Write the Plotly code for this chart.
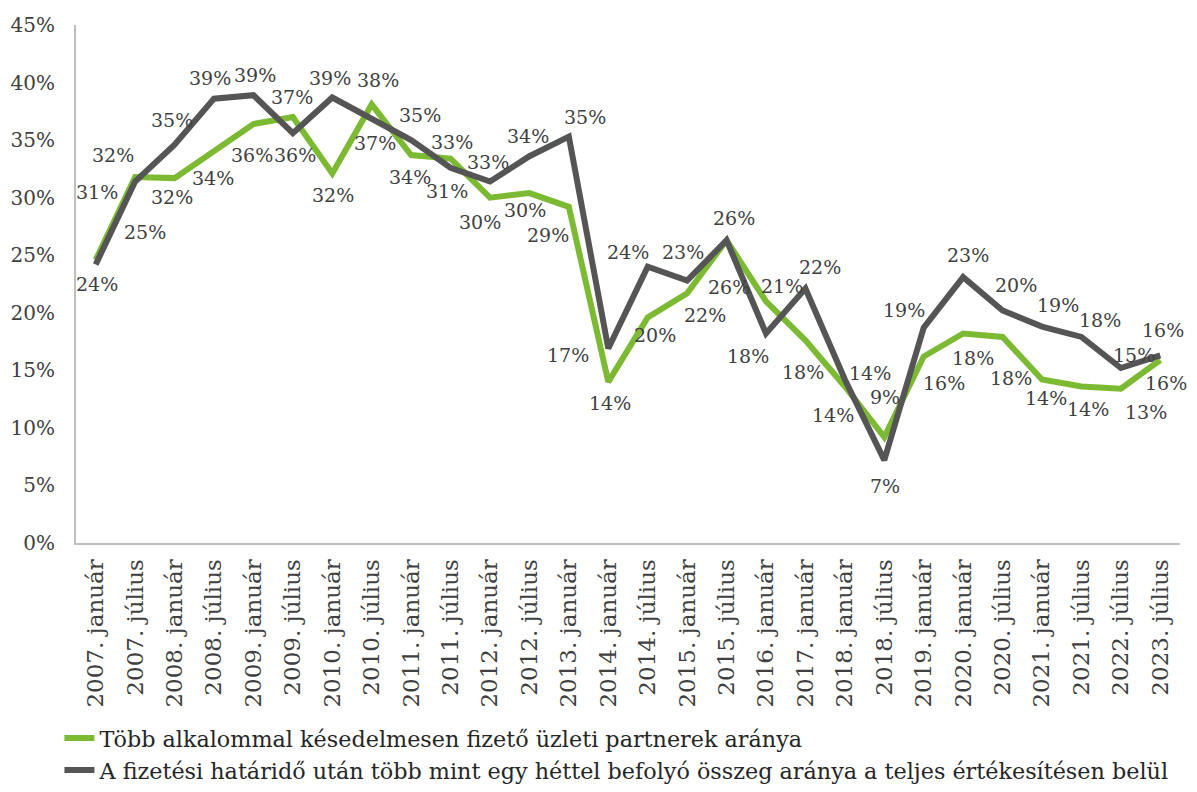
import plotly.graph_objects as go

categories = [
    "2007. január", "2007. július", "2008. január", "2008. július",
    "2009. január", "2009. július", "2010. január", "2010. július",
    "2011. január", "2011. július", "2012. január", "2012. július",
    "2013. január", "2014. január", "2014. július", "2015. január",
    "2015. július", "2016. január", "2017. január", "2018. január",
    "2018. július", "2019. január", "2020. január", "2020. július",
    "2021. január", "2021. július", "2022. július", "2023. július",
]

green_values = [24.6, 31.8, 31.7, 34.1, 36.4, 37.0, 32.1, 38.1, 33.7, 33.4,
                30.0, 30.4, 29.2, 14.0, 19.6, 21.7, 26.3, 21.0, 17.6, 13.6,
                9.2, 16.2, 18.2, 17.9, 14.2, 13.6, 13.4, 15.9]
gray_values = [24.2, 31.4, 34.6, 38.6, 38.9, 35.6, 38.7, 36.9, 35.0, 32.6,
               31.4, 33.6, 35.3, 16.9, 24.0, 22.8, 26.3, 18.2, 22.1, 14.2,
               7.2, 18.7, 23.1, 20.2, 18.8, 17.9, 15.2, 16.3]

y_ticks = [0, 5, 10, 15, 20, 25, 30, 35, 40, 45]
y_tick_labels = ["0%", "5%", "10%", "15%", "20%", "25%", "30%", "35%", "40%", "45%"]

green_name = "Több alkalommal késedelmesen fizető üzleti partnerek aránya"
gray_name = ("A fizetési határidő után több mint egy héttel befolyó összeg "
             "aránya a teljes értékesítésen belül")

# label pixel offsets (style)
green_off = [(49, -28), (-22, -22), (-3, 19), (-1, 28), (-1, 31), (-1, -20),
             (1, 22), (6, -24), (-1, 22), (1, -17), (-10, 24), (-4, 17),
             (-21, 28), (2, 21), (7, 18), (18, 22), (7, -22), (16, -15),
             (-2, 32), (-12, 29), (1, -40), (20, 26), (10, 24), (8, 41),
             (4, 18), (7, 23), (25, 23), (6, 23)]
gray_off = [(1, 20), (-38, 10), (-3, -25), (-4, -21), (2, -20), (2, 22),
            (-2, -20), (3, 25), (9, -25), (37, -6), (-43, 9), (-1, -20),
            (16, -20), (-40, 7), (-20, -15), (-4, -29), (2, 47), (-18, 22),
            (15, -22), (25, -7), (1, 26), (-20, -18), (5, -22), (13, -25),
            (16, -22), (19, -17), (13, -13), (3, -25)]

GREEN = "#7dba34"
GRAY = "#555555"
TEXT = "#404040"
FONT = "DejaVu Serif"

fig = go.Figure()
fig.add_trace(go.Scatter(x=categories, y=green_values, mode="lines", name=green_name,
                         line=dict(color=GREEN, width=6), hoverinfo="skip"))
fig.add_trace(go.Scatter(x=categories, y=gray_values, mode="lines", name=gray_name,
                         line=dict(color=GRAY, width=6), hoverinfo="skip"))

annotations = []
for vals, offs in ((green_values, green_off), (gray_values, gray_off)):
    for c, v, (dx, dy) in zip(categories, vals, offs):
        annotations.append(dict(x=c, y=v, xref="x", yref="y", text=f"{round(v):.0f}%",
                                showarrow=False, xshift=dx, yshift=-dy,
                                font=dict(family=FONT, size=19, color=TEXT)))

fig.update_layout(
    width=1181, height=776,
    margin=dict(l=68, r=9, t=17, b=241, autoexpand=False),
    paper_bgcolor="white", plot_bgcolor="white",
    font=dict(family=FONT, color=TEXT),
    annotations=annotations,
    showlegend=True,
    legend=dict(orientation="v", x=-0.015, xanchor="left", y=-0.336, yanchor="top",
                font=dict(family=FONT, size=22.3, color="#262626"),
                itemwidth=30, tracegroupgap=0),
    xaxis=dict(type="category", range=[-0.5, len(categories) - 0.5],
               showline=True, linecolor="#bfbfbf", linewidth=2,
               showgrid=False, ticks="", tickangle=-90, automargin=False,
               ticklabelstandoff=5,
               tickfont=dict(family=FONT, size=23, color=TEXT)),
    yaxis=dict(range=[0, 45], tickvals=y_ticks, ticktext=y_tick_labels,
               showline=True, linecolor="#bfbfbf", linewidth=2,
               showgrid=False, zeroline=False, ticks="", automargin=False,
               ticklabelstandoff=15,
               tickfont=dict(family=FONT, size=20, color=TEXT)),
)

fig.write_html("out.html")
